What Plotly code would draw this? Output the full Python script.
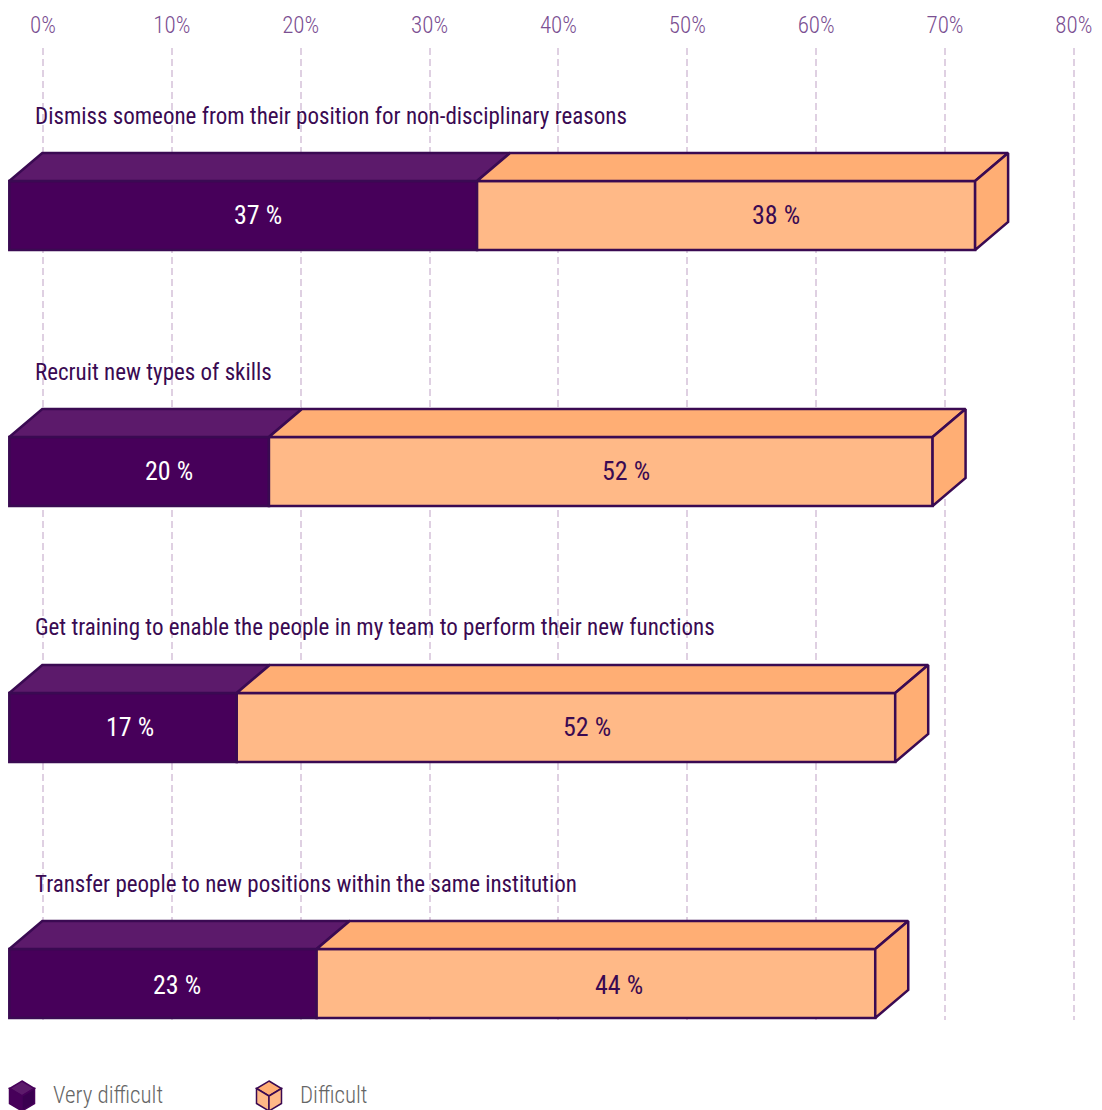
import plotly.graph_objects as go

# ---------- data ----------
questions = [
    "Dismiss someone from their position for non-disciplinary reasons",
    "Recruit new types of skills",
    "Get training to enable the people in my team to perform their new functions",
    "Transfer people to new positions within the same institution",
]
very_difficult = [36.3, 20.15, 17.65, 23.85]
difficult = [38.65, 51.5, 51.1, 43.35]
very_difficult_labels = ["37 %", "20 %", "17 %", "23 %"]
difficult_labels = ["38 %", "52 %", "52 %", "44 %"]
tick_values = [0, 10, 20, 30, 40, 50, 60, 70, 80]
tick_labels = ["0%", "10%", "20%", "30%", "40%", "50%", "60%", "70%", "80%"]
legend_names = ["Very difficult", "Difficult"]

# ---------- geometry ----------
W, H = 1102, 1110
PX = 12.886            # pixels per percent
X0 = 43                # pixel of 0 %
ROW = 256              # pixels per row
Y0 = 215.5             # pixel of row 0 centre
TOP, BOT = 48, 1020    # plot area
BAR_H = 69
START = (9.3 - X0) / PX
DX = 33 / PX
DY = 28 / ROW
HALF = BAR_H / 2 / ROW
LABEL_SHIFT_DARK = [15, 30, 7, 14]
LABEL_SHIFT_LIGHT = [50, 25, 21, 23]
LABEL_LIFT = [1, 1, 1, -1]
TITLE_SHIFT = [-99.5, -99, -100.5, -99.5]

FONT = "Roboto Condensed"
FONT_LIGHT = "Roboto Condensed Light"
INK = "#3a0a52"
DARK_FRONT, DARK_TOP = "#47005a", "#5c1a6b"
LIGHT_FRONT, LIGHT_TOP = "#ffb987", "#ffae74"
STROKE = 2.5

fig = go.Figure()
rows = list(range(len(questions)))
splits = [START + v for v in very_difficult]
ends = [s + v for s, v in zip(splits, difficult)]

fig.add_trace(go.Bar(y=rows, x=very_difficult, base=[START] * 4, orientation="h", width=2 * HALF,
                     marker=dict(color=DARK_FRONT, line=dict(color=INK, width=STROKE)),
                     hoverinfo="skip", showlegend=False))
fig.add_trace(go.Bar(y=rows, x=difficult, base=splits, orientation="h", width=2 * HALF,
                     marker=dict(color=LIGHT_FRONT, line=dict(color=INK, width=STROKE)),
                     hoverinfo="skip", showlegend=False))


def face(xs, ys, color):
    fig.add_trace(go.Scatter(x=xs, y=ys, mode="lines", fill="toself", fillcolor=color,
                             line=dict(color=INK, width=STROKE), hoverinfo="skip", showlegend=False))


for i in rows:
    t, b = i - HALF, i + HALF
    face([START, START + DX, splits[i] + DX, splits[i], START], [t, t - DY, t - DY, t, t], DARK_TOP)
    face([splits[i], splits[i] + DX, ends[i] + DX, ends[i], splits[i]], [t, t - DY, t - DY, t, t], LIGHT_TOP)
    face([ends[i], ends[i] + DX, ends[i] + DX, ends[i], ends[i]], [t, t - DY, b - DY, b, t], LIGHT_TOP)


def ann(x, y, text, color, size, anchor="center", xshift=0, yshift=0, xref="x", yref="y", family=FONT):
    fig.add_annotation(x=x, y=y, xref=xref, yref=yref, text=text, showarrow=False, xanchor=anchor,
                       yanchor="middle", xshift=xshift, yshift=yshift,
                       font=dict(family=family, size=size, color=color))


for i in rows:
    ann(START + very_difficult[i] / 2, i, very_difficult_labels[i], "#ffffff", 26,
        xshift=LABEL_SHIFT_DARK[i], yshift=LABEL_LIFT[i])
    ann(splits[i] + difficult[i] / 2, i, difficult_labels[i], INK, 26,
        xshift=LABEL_SHIFT_LIGHT[i], yshift=LABEL_LIFT[i])
    ann((33 - X0) / PX, i, questions[i], INK, 23, anchor="left", yshift=-TITLE_SHIFT[i])


def xp(px):
    return px / W


def yp(py):
    return (BOT - py) / (BOT - TOP)


def path(points):
    return "M " + " L ".join(f"{xp(a):.5f},{yp(b):.5f}" for a, b in points) + " Z"


def cube(cx, cy, top, left, right, line):
    r, h = 12.5, 7.5
    hexa = dict(type="path", xref="paper", yref="paper", line=dict(color=line, width=1.5))
    fig.add_shape(path=path([(cx, cy - 2 * h), (cx + r, cy - h), (cx, cy), (cx - r, cy - h)]), fillcolor=top, **hexa)
    fig.add_shape(path=path([(cx - r, cy - h), (cx, cy), (cx, cy + 2 * h), (cx - r, cy + h)]), fillcolor=left, **hexa)
    fig.add_shape(path=path([(cx + r, cy - h), (cx, cy), (cx, cy + 2 * h), (cx + r, cy + h)]), fillcolor=right, **hexa)


cube(22, 1096, "#5c1a6b", DARK_FRONT, "#3a0050", DARK_FRONT)
cube(269, 1096, LIGHT_TOP, LIGHT_FRONT, LIGHT_FRONT, INK)
ann(xp(51), yp(1095), legend_names[0], "#666666", 23, anchor="left", xref="paper", yref="paper", family=FONT_LIGHT)
ann(xp(298), yp(1095), legend_names[1], "#666666", 23, anchor="left", xref="paper", yref="paper", family=FONT_LIGHT)

fig.update_layout(
    width=W, height=H, margin=dict(l=0, r=0, t=TOP, b=H - BOT), autosize=False,
    plot_bgcolor="rgba(0,0,0,0)", paper_bgcolor="#ffffff", barmode="overlay", showlegend=False,
    xaxis=dict(range=[-X0 / PX, (W - X0) / PX], side="top", tickmode="array", tickvals=tick_values,
               ticktext=tick_labels, showgrid=True, gridcolor="#dfd0e2", gridwidth=1.5,
               griddash="7px,4px", zeroline=False, showline=False, ticks="", ticklabelstandoff=9,
               tickfont=dict(family=FONT_LIGHT, size=23, color="#7b4f92")),
    yaxis=dict(range=[(BOT - Y0) / ROW, (TOP - Y0) / ROW], showgrid=False, zeroline=False,
               showticklabels=False, showline=False, ticks=""),
)
fig.write_html("out.html", post_script="document.body.style.margin='0';", config=dict(displayModeBar=False))
